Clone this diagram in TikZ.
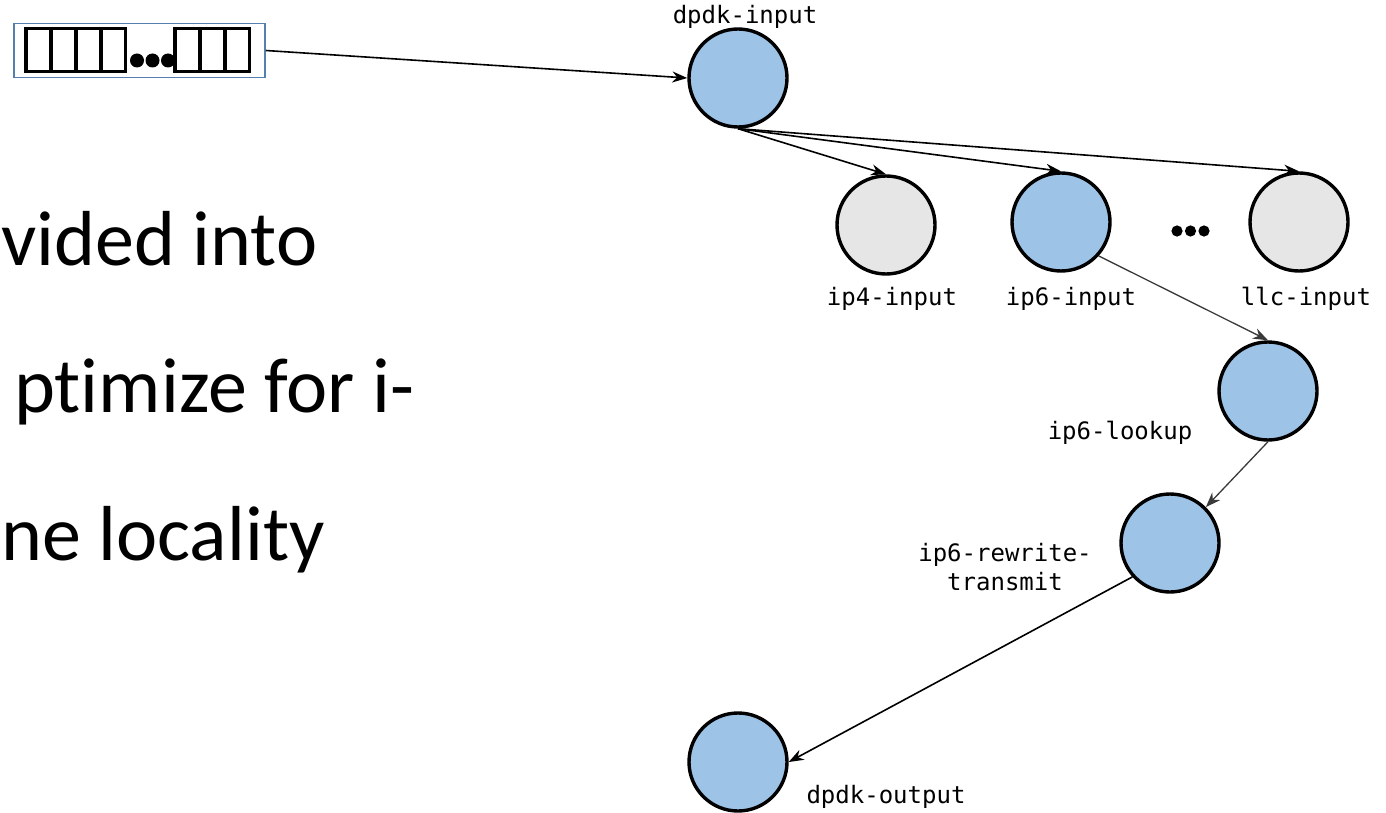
\documentclass[tikz,border=0pt]{standalone}
\usepackage{fontspec}
\setmainfont{Carlito}[Ligatures=CommonOff]
\newfontfamily\codefont{DejaVu Sans Mono}
\usetikzlibrary{arrows.meta}
\definecolor{nodeblue}{HTML}{9DC3E6}
\definecolor{nodegray}{HTML}{E6E6E6}
\definecolor{queueedge}{HTML}{5580AD}
\definecolor{darkedge}{HTML}{3A3A3A}
\tikzset{
  gnode/.style={circle, draw=black, line width=3.4pt, minimum size=98pt, inner sep=0pt},
  active/.style={gnode, fill=nodeblue},
  idle/.style={gnode, fill=nodegray},
  lbl/.style={font=\codefont\fontsize{24}{29}\selectfont, align=center, inner sep=0pt},
  body/.style={font=\fontsize{78}{90}\selectfont, anchor=base west, inner sep=0pt},
  flow/.style={line width=1.6pt, -{Stealth[length=15pt, width=11pt]}},
  softflow/.style={flow, draw=darkedge, line width=1.3pt},
  slot/.style={draw=black, line width=3.2pt},
}
\begin{document}
\begin{tikzpicture}[x=1pt, y=-1pt]
\useasboundingbox (0,0) rectangle (1386,813);
\fill[white] (0,0) rectangle (1386,813);

% slide text along the left edge
\node[body] (t1) at (1,265) {vided into};
\node[body] (t2) at (14,412) {ptimize for i-};
\node[body] (t3) at (1,560) {ne locality};

% packet vector
\node[draw=queueedge, line width=1.6pt, minimum width=251pt, minimum height=54pt, inner sep=0pt] (queue) at (139.5,50.5) {};
\foreach \a in {26,51,76,101,175,200,225}
  \draw[slot] (\a,28.5) rectangle ++(24.5,43);
\foreach \d in {137,152.5,168}
  \fill (\d,60.5) circle (7);

% graph nodes
\node[active] (din)  at (738,78)  {};
\node[idle]   (ip4)  at (886,225) {};
\node[active] (ip6)  at (1061,222) {};
\node[idle]   (llc)  at (1299,222) {};
\node[active] (look) at (1268,391) {};
\node[active] (rw)   at (1170,543) {};
\node[active] (dout) at (738,762) {};

\foreach \d in {1177,1190.5,1204}
  \fill (\d,231) circle (5.6);

% node labels
\node[lbl] (ldin)  at (745,17)  {dpdk-input};
\node[lbl] (lip4)  at (892,299) {ip4-input};
\node[lbl] (lip6)  at (1071,299) {ip6-input};
\node[lbl] (lllc)  at (1306,299) {llc-input};
\node[lbl] (llook) at (1120,433) {ip6-lookup};
\node[lbl] (lrw)   at (1005,567) {ip6-rewrite-\\transmit};
\node[lbl] (ldout) at (886,797) {dpdk-output};

% edges
\draw[flow] (queue.east) -- (din.west);
\draw[flow] (din.south) -- (ip4.north);
\draw[flow] (din.south) -- (ip6.north);
\draw[flow] (din.south) -- (llc.north);
\draw[softflow] (ip6.-42) -- (look.north);
\draw[softflow] (look.south) -- (rw.45);
\draw[flow] (rw.222) -- (dout.east);
\end{tikzpicture}
\end{document}
